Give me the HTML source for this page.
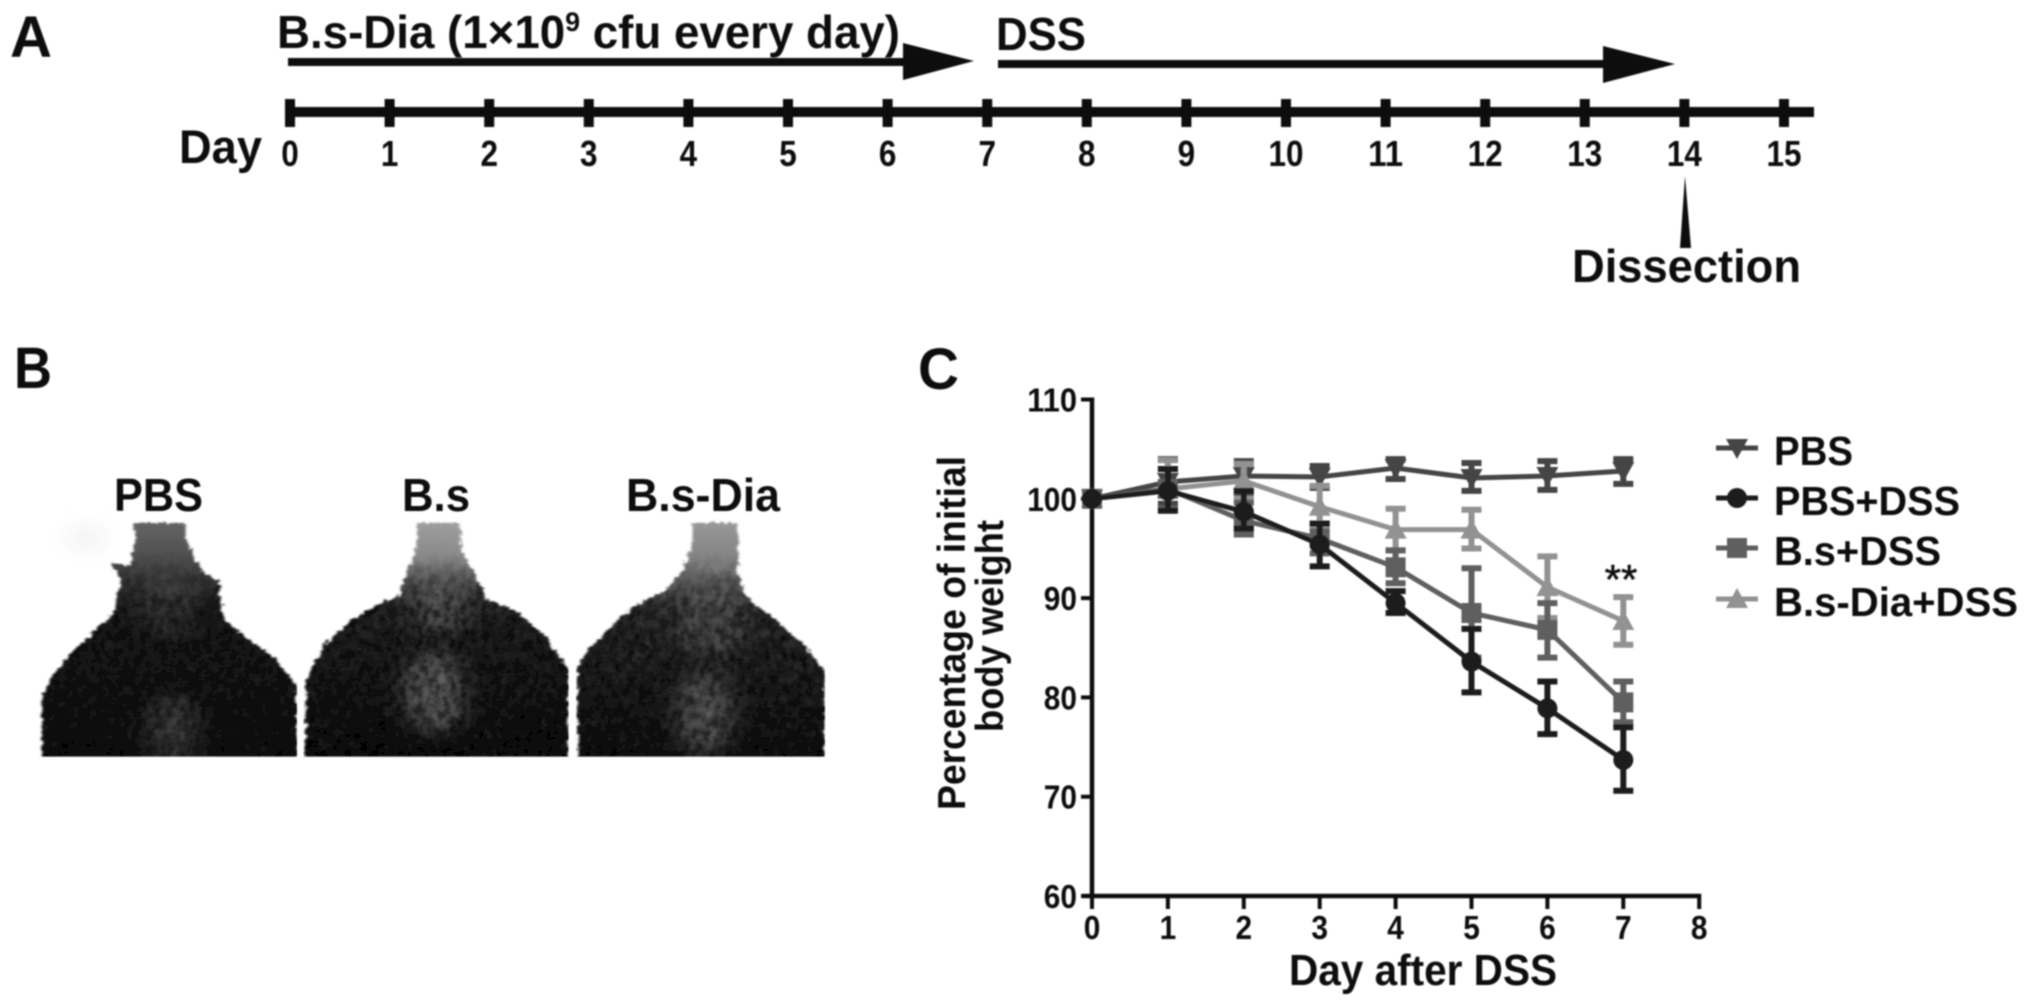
<!DOCTYPE html>
<html lang="en">
<head>
<meta charset="utf-8">
<title>Figure: B.s-Dia DSS experiment</title>
<style>
html,body{margin:0;padding:0;background:#fff;width:2031px;height:1006px;overflow:hidden}
svg{display:block}
text{font-family:"Liberation Sans",Arial,sans-serif;font-weight:bold;fill:#0a0a0a}
</style>
</head>
<body>
<svg id="fig" xmlns="http://www.w3.org/2000/svg" width="2031" height="1006" viewBox="0 0 2031 1006">
<defs>
  <filter id="soft" x="-5%" y="-5%" width="110%" height="110%"><feGaussianBlur stdDeviation="0.8"/></filter>
  <filter id="jagged" x="-5%" y="-5%" width="110%" height="110%">
    <feTurbulence type="fractalNoise" baseFrequency="0.14 0.06" numOctaves="2" seed="4" result="n"/>
    <feDisplacementMap in="SourceGraphic" in2="n" scale="18" xChannelSelector="R" yChannelSelector="G"/>
    <feGaussianBlur stdDeviation="1.8"/>
  </filter>
  <filter id="patchBlur" x="-60%" y="-60%" width="220%" height="220%"><feGaussianBlur stdDeviation="26"/></filter>
  <filter id="darkFur" x="0" y="0" width="100%" height="100%">
    <feTurbulence type="fractalNoise" baseFrequency="0.1 0.03" numOctaves="3" seed="9"/>
    <feColorMatrix values="0 0 0 0 0  0 0 0 0 0  0 0 0 0 0  3.2 0 0 0 -1.1"/>
  </filter>
  <filter id="lightFur" x="0" y="0" width="100%" height="100%">
    <feTurbulence type="fractalNoise" baseFrequency="0.11 0.03" numOctaves="2" seed="21"/>
    <feColorMatrix values="0 0 0 0 .55  0 0 0 0 .55  0 0 0 0 .55  0 3 0 0 -1.5"/>
  </filter>
  <linearGradient id="furFade" gradientUnits="userSpaceOnUse" x1="0" y1="640" x2="0" y2="800"><stop offset="0" stop-color="#000"/><stop offset="1" stop-color="#fff"/></linearGradient>
  <mask id="furMask" maskUnits="userSpaceOnUse" x="0" y="500" width="1600" height="800"><rect x="0" y="500" width="1600" height="800" fill="url(#furFade)"/></mask>
  <linearGradient id="neck1" x1="0" y1="0" x2="0" y2="1"><stop offset="0" stop-color="#666"/><stop offset=".16" stop-color="#4e4e4e"/><stop offset=".36" stop-color="#1c1c1c"/><stop offset="1" stop-color="#0b0b0b"/></linearGradient>
  <linearGradient id="neck2" x1="0" y1="0" x2="0" y2="1"><stop offset="0" stop-color="#a0a0a0"/><stop offset=".17" stop-color="#868686"/><stop offset=".34" stop-color="#262626"/><stop offset="1" stop-color="#090909"/></linearGradient>
  <linearGradient id="neck3" x1="0" y1="0" x2="0" y2="1"><stop offset="0" stop-color="#9a9a9a"/><stop offset=".2" stop-color="#7d7d7d"/><stop offset=".38" stop-color="#2c2c2c"/><stop offset="1" stop-color="#0c0c0c"/></linearGradient>
  <clipPath id="clip1"><path d="M248 548L250 600 240 680 205 665 225 720 215 780 205 830 170 880 130 940 95 1010 77 1075 77 1262 548 1262 548 1040 505 950 460 900 415 840 405 770 405 725 375 700 345 610 340 548Z"/></clipPath>
  <clipPath id="clip2"><path d="M768 548L768 620 755 680 735 770 700 790 650 840 600 910 565 1020 562 1262 1049 1262 1049 990 1000 880 950 810 900 780 870 690 850 620 848 548Z"/></clipPath>
  <clipPath id="clip3"><path d="M1278 548L1278 600 1262 680 1230 750 1170 800 1120 870 1075 950 1065 985 1065 1262 1522 1262 1522 990 1480 910 1430 840 1375 770 1362 690 1360 548Z"/></clipPath>
  <clipPath id="photoBox1"><rect x="72" y="530" width="476" height="720"/></clipPath>
  <clipPath id="photoBox2"><rect x="560" y="530" width="489" height="720"/></clipPath>
  <clipPath id="photoBox3"><rect x="1063" y="530" width="459" height="720"/></clipPath>
</defs>

<g filter="url(#soft)">
  <!-- Panel A -->
  <text x="10" y="57" font-size="58" textLength="42" lengthAdjust="spacingAndGlyphs">A</text>
  <g id="timeline">
    <text x="277" y="48" font-size="46" textLength="623" lengthAdjust="spacingAndGlyphs">B.s-Dia (1×10<tspan font-size="27" dy="-17">9</tspan><tspan dy="17"> cfu every day)</tspan></text>
    <rect x="288" y="58" width="620" height="8" fill="#111"/>
    <polygon points="903,43 974,61 903,80" fill="#111"/>
    <text x="996" y="50" font-size="46" textLength="90" lengthAdjust="spacingAndGlyphs">DSS</text>
    <rect x="998" y="60" width="610" height="8" fill="#111"/>
    <polygon points="1603,46 1675,64 1603,83" fill="#111"/>
    <rect x="285" y="107" width="1529" height="10" fill="#111"/>
    <text x="179" y="163" font-size="47" textLength="83" lengthAdjust="spacingAndGlyphs">Day</text>
    <polygon points="1685,176 1680,248 1691,248" fill="#111"/>
    <text x="1572" y="282" font-size="46" textLength="229" lengthAdjust="spacingAndGlyphs">Dissection</text>
  </g>

  <!-- Panel B -->
  <text x="14" y="388" font-size="58" textLength="38" lengthAdjust="spacingAndGlyphs">B</text>
  <text x="114" y="511" font-size="46" textLength="89" lengthAdjust="spacingAndGlyphs">PBS</text>
  <text x="402" y="511" font-size="46" textLength="68" lengthAdjust="spacingAndGlyphs">B.s</text>
  <text x="626" y="511" font-size="46" textLength="154" lengthAdjust="spacingAndGlyphs">B.s-Dia</text>
  <g transform="translate(0,340) scale(0.542,0.3333)">
    <ellipse cx="160" cy="595" rx="28" ry="45" fill="#f0f0f0" filter="url(#patchBlur)"/>
    <g clip-path="url(#photoBox1)"><g filter="url(#jagged)"><g clip-path="url(#clip1)">
      <rect x="70" y="540" width="485" height="725" fill="url(#neck1)"/>
      <ellipse cx="320" cy="1170" rx="50" ry="110" fill="#6a6a6a" opacity=".5" filter="url(#patchBlur)"/>
      <ellipse cx="310" cy="790" rx="50" ry="100" fill="#505050" opacity=".55" filter="url(#patchBlur)"/>
      <rect x="70" y="620" width="485" height="645" filter="url(#darkFur)" opacity=".5" mask="url(#furMask)"/>
      <rect x="70" y="760" width="485" height="505" filter="url(#lightFur)" opacity=".08"/>
    </g></g></g>
    <g clip-path="url(#photoBox2)"><g filter="url(#jagged)"><g clip-path="url(#clip2)">
      <rect x="555" y="540" width="500" height="725" fill="url(#neck2)"/>
      <ellipse cx="800" cy="1060" rx="55" ry="125" fill="#8c8c8c" opacity=".65" filter="url(#patchBlur)"/>
      <ellipse cx="810" cy="790" rx="55" ry="90" fill="#6a6a6a" opacity=".7" filter="url(#patchBlur)"/>
      <rect x="555" y="620" width="500" height="645" filter="url(#darkFur)" opacity=".6" mask="url(#furMask)"/>
      <rect x="555" y="760" width="500" height="505" filter="url(#lightFur)" opacity=".1"/>
    </g></g></g>
    <g clip-path="url(#photoBox3)"><g filter="url(#jagged)"><g clip-path="url(#clip3)">
      <rect x="1060" y="540" width="470" height="725" fill="url(#neck3)"/>
      <ellipse cx="1300" cy="1120" rx="50" ry="130" fill="#808080" opacity=".65" filter="url(#patchBlur)"/>
      <ellipse cx="1310" cy="830" rx="60" ry="120" fill="#606060" opacity=".7" filter="url(#patchBlur)"/>
      <rect x="1060" y="620" width="470" height="645" filter="url(#darkFur)" opacity=".55" mask="url(#furMask)"/>
      <rect x="1060" y="760" width="470" height="505" filter="url(#lightFur)" opacity=".1"/>
    </g></g></g>
  </g>

  <!-- Panel C -->
  <text x="918" y="389" font-size="58" textLength="41" lengthAdjust="spacingAndGlyphs">C</text>
  <g id="chart">
    <text transform="translate(965,810) rotate(-90)" font-size="39" textLength="354" lengthAdjust="spacingAndGlyphs">Percentage of initial</text>
    <text transform="translate(1003,732) rotate(-90)" font-size="39" textLength="212" lengthAdjust="spacingAndGlyphs">body weight</text>
    <text x="1289" y="985" font-size="44" textLength="268" lengthAdjust="spacingAndGlyphs">Day after DSS</text>
    <text x="1621" y="594" font-size="42" text-anchor="middle" stroke="#222" stroke-width=".6" style="font-weight:normal">**</text>
  </g>
</g>

<script>
// Timeline data
var timelineDays = [0,1,2,3,4,5,6,7,8,9,10,11,12,13,14,15];

// Chart data
var days = [0,1,2,3,4,5,6,7];
var yTickLabels = [60,70,80,90,100,110];
var xTickLabels = [0,1,2,3,4,5,6,7,8];

var pbsMean      = [100,101.7,102.3,102.2,103.1,102.1,102.3,102.8];
var pbsUpper     = [100,104,103.8,103.3,104,103.6,103.8,104];
var pbsLower     = [100,99.5,100.6,101.1,102,100.8,100.9,101.5];

var pbsDssMean   = [100,100.8,98.7,95.4,89.5,83.6,78.9,73.7];
var pbsDssUpper  = [100,103,100.8,97.5,90.7,86.9,81.6,77];
var pbsDssLower  = [100,98.8,97,93.2,88.5,80.5,76.3,70.6];

var bsDssMean    = [100,101,97.8,96,93.1,88.5,86.8,79.5];
var bsDssUpper   = [100,103,99.6,97.5,94.8,93,89.5,81.6];
var bsDssLower   = [100,99,96.4,94.5,91.5,84,84,77.5];

var diaDssMean   = [100,101,101.8,99.2,96.9,96.9,91.1,87.7];
var diaDssUpper  = [100,103.9,103.5,101.3,99,98.9,94.2,90.1];
var diaDssLower  = [100,99,100,97,94.8,95,88,85.3];

var legendNames  = ["PBS","PBS+DSS","B.s+DSS","B.s-Dia+DSS"];

(function(){
  var NS = 'http://www.w3.org/2000/svg';
  var chart = document.getElementById('chart');
  var timeline = document.getElementById('timeline');

  function make(tag, attrs, parent){
    var el = document.createElementNS(NS, tag);
    for (var k in attrs) el.setAttribute(k, attrs[k]);
    parent.appendChild(el);
    return el;
  }
  function digitsWidth(v, w){ return String(v).length * w; }

  // Timeline
  function tx(d){ return 290 + d * 99.6; }
  timelineDays.forEach(function(d){
    var t = make('rect', {x: tx(d) - 5, y: 99, width: 10, height: 28, fill: '#111'}, timeline);
    
    
    var l = make('text', {x: tx(d), y: 166, 'font-size': 36, 'text-anchor': 'middle', textLength: digitsWidth(d, 17.5), lengthAdjust: 'spacingAndGlyphs'}, timeline);
    
    
    l.textContent = d;
  });

  // Axis functions
  function x(d){ return 1092 + d * 75.9; }
  function y(v){ return 896 - (v - 60) * 9.93; }

  // Axes
  var yAxis = make('line', {x1: x(0), x2: x(0), y1: y(110) - 2, y2: y(60) + 2, stroke: '#111', 'stroke-width': 4.5}, chart);
  
  
  var xAxis = make('line', {x1: x(0) - 10, x2: x(8) + 2, y1: y(60), y2: y(60), stroke: '#111', 'stroke-width': 4.5}, chart);
  
  

  yTickLabels.forEach(function(v){
    var t = make('line', {x1: x(0) - 11, x2: x(0), y1: y(v), y2: y(v), stroke: '#111', 'stroke-width': 4}, chart);
    
    
    var l = make('text', {x: 1077, y: y(v) + 12, 'font-size': 33, 'text-anchor': 'end', textLength: digitsWidth(v, 16.6), lengthAdjust: 'spacingAndGlyphs'}, chart);
    
    
    l.textContent = v;
  });
  xTickLabels.forEach(function(d){
    var t = make('line', {x1: x(d), x2: x(d), y1: y(60), y2: y(60) + 13, stroke: '#111', 'stroke-width': 4}, chart);
    
    
    var l = make('text', {x: x(d), y: 939, 'font-size': 33, 'text-anchor': 'middle', textLength: 16.6, lengthAdjust: 'spacingAndGlyphs'}, chart);
    
    
    l.textContent = d;
  });

  // Markers
  function marker(kind, cx, cy, color, parent){
    var r = 10, m;
    if (kind === 'circle') {
      m = make('circle', {cx: cx, cy: cy, r: r, fill: color}, parent);
    } else if (kind === 'square') {
      m = make('rect', {x: cx - r, y: cy - r, width: 2 * r, height: 2 * r, fill: color}, parent);
    } else if (kind === 'up') {
      m = make('polygon', {points: [cx, cy - r - 1, cx + r + 1, cy + r - 1, cx - r - 1, cy + r - 1].join(' '), fill: color}, parent);
    } else {
      m = make('polygon', {points: [cx, cy + r + 1, cx + r + 1, cy - r + 1, cx - r - 1, cy - r + 1].join(' '), fill: color}, parent);
    }
    return m;
  }

  function drawSeries(name, mean, upper, lower, color, kind){
    var g = make('g', {}, chart);
    
    
    var pts = days.map(function(d, i){ return x(d) + ',' + y(mean[i]); }).join(' ');
    var line = make('polyline', {points: pts, fill: 'none', stroke: color, 'stroke-width': 5, 'stroke-linejoin': 'round'}, g);
    
    
    days.forEach(function(d, i){
      if (upper[i] !== lower[i]) {
        var path = 'M' + (x(d) - 10) + ' ' + y(upper[i]) + 'H' + (x(d) + 10) +
                   'M' + x(d) + ' ' + y(upper[i]) + 'V' + y(lower[i]) +
                   'M' + (x(d) - 10) + ' ' + y(lower[i]) + 'H' + (x(d) + 10);
        var e = make('path', {d: path, fill: 'none', stroke: color, 'stroke-width': 6}, g);
        
        
      }
      var m = marker(kind, x(d), y(mean[i]), color, g);
      
      
    });
  }

  var colors = ['#454545', '#1c1c1c', '#5e5e5e', '#929292'];
  var kinds = ['down', 'circle', 'square', 'up'];

  drawSeries('pbs', pbsMean, pbsUpper, pbsLower, colors[0], kinds[0]);
  drawSeries('bs-dia-dss', diaDssMean, diaDssUpper, diaDssLower, colors[3], kinds[3]);
  drawSeries('bs-dss', bsDssMean, bsDssUpper, bsDssLower, colors[2], kinds[2]);
  drawSeries('pbs-dss', pbsDssMean, pbsDssUpper, pbsDssLower, colors[1], kinds[1]);

  // Legend
  var legendWidths = [79, 186, 167, 244];
  var legendRows = [448, 498, 548, 599];
  legendNames.forEach(function(n, i){
    var g = make('g', {}, chart);
    
    
    var ln = make('line', {x1: 1716, x2: 1758, y1: legendRows[i], y2: legendRows[i], stroke: colors[i], 'stroke-width': 5}, g);
    
    
    var m = marker(kinds[i], 1737, legendRows[i], colors[i], g);
    
    
    var t = make('text', {x: 1774, y: legendRows[i] + 17, 'font-size': 41, textLength: legendWidths[i], lengthAdjust: 'spacingAndGlyphs'}, g);
    
    
    t.textContent = n;
  });
})();
</script>
</svg>
</body>
</html>
